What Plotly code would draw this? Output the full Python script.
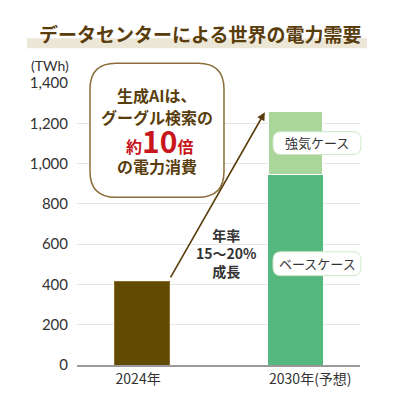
import plotly.graph_objects as go

years = ["2024年", "2030年(予想)"]
x_pos = [0, 1]
actual = [415, None]
base_case = [None, 945]
strong_case = [None, 315]
y_ticks = [0, 200, 400, 600, 800, 1000, 1200, 1400]

FONT = "Noto Sans CJK JP"
BROWN = "#5a3d0c"
BAR_W = 0.355

# page has an 8px body margin; positions below are screen pixels
OFF = 8
W = H = 400 - OFF
L, R, T, B = 77, 360, 83, 367


def paper(px, py):
    return (px - L) / (R - L), (B - py) / (B - T)


def rounded_box(x0, y0, x1, y1, r):
    # rounded rectangle path in pixel space -> paper coords
    pts = [("M", x0 + r, y0), ("L", x1 - r, y0), ("Q", x1, y0, x1, y0 + r),
           ("L", x1, y1 - r), ("Q", x1, y1, x1 - r, y1), ("L", x0 + r, y1),
           ("Q", x0, y1, x0, y1 - r), ("L", x0, y0 + r), ("Q", x0, y0, x0 + r, y0)]
    parts = []
    for p in pts:
        cmd, coords = p[0], p[1:]
        xy = []
        for i in range(0, len(coords), 2):
            a, b = paper(coords[i], coords[i + 1])
            xy.append(f"{a:.4f},{b:.4f}")
        parts.append(cmd + " ".join(xy))
    return " ".join(parts) + " Z"


def note(text, px, py, size, color="#333333", family=FONT, xanchor="center"):
    x, y = paper(px, py)
    return dict(text=text, xref="paper", yref="paper", x=x, y=y, xanchor=xanchor, yanchor="middle",
                showarrow=False, font=dict(size=size, color=color, family=family))


fig = go.Figure()
fig.add_trace(go.Bar(x=x_pos, y=actual, marker=dict(color="#634a03", line=dict(color="#8a6d2a", width=1)),
                     width=BAR_W, showlegend=False))
fig.add_trace(go.Bar(x=x_pos, y=base_case, marker=dict(color="#55b87f", line=dict(width=0)),
                     width=BAR_W, showlegend=False))
fig.add_trace(go.Bar(x=x_pos, y=strong_case, marker=dict(color="#aad69c", line=dict(color="#ffffff", width=1)),
                     width=BAR_W, showlegend=False))

shapes = []
# title band
bx0, by0 = paper(27, 48)
bx1, by1 = paper(367, 38)
shapes.append(dict(type="rect", xref="paper", yref="paper", x0=bx0, y0=by0, x1=bx1, y1=by1,
                   fillcolor="#ebe6d6", line=dict(width=0), layer="below"))
# callout bubble
shapes.append(dict(type="path", xref="paper", yref="paper", path=rounded_box(90, 63, 224, 198, 26),
                   fillcolor="#ffffff", line=dict(color="#8b6d3b", width=1.5)))
# case label boxes
shapes.append(dict(type="path", xref="paper", yref="paper", path=rounded_box(273, 132, 361, 155, 8),
                   fillcolor="#ffffff", line=dict(color="#cfe8c8", width=1)))
shapes.append(dict(type="path", xref="paper", yref="paper", path=rounded_box(273, 253, 361, 277, 8),
                   fillcolor="#ffffff", line=dict(color="#cfe8c8", width=1)))

annotations = [
    note("<b>データセンターによる世界の電力需要</b>", 200, 33, 19, BROWN),
    note("(TWh)", 71, 65, 14, family="Lato", xanchor="right"),
    note("<b>生成AIは、</b>", 157, 95, 16, BROWN),
    note("<b>グーグル検索の</b>", 157, 117, 16, BROWN),
    note("<b>約<span style='font-size:30px'>10</span>倍</b>", 159, 140, 16, "#c8161d"),
    note("<b>の電力消費</b>", 157, 167, 16, BROWN),
    note("強気ケース", 317, 143, 13),
    note("ベースケース", 317, 265, 13),
]
# growth arrow from 2024 bar to 2030 bar
annotations.append(dict(x=0.80, y=1255, ax=0.18, ay=428, xref="x", yref="y", axref="x", ayref="y",
                        text="", showarrow=True, arrowhead=2, arrowsize=1, arrowwidth=1.6,
                        arrowcolor=BROWN))
annotations.append(dict(x=0.55, y=556, xref="x", yref="y", showarrow=False,
                        text="<b>年率</b><br><b>15～20%</b><br><b>成長</b>",
                        font=dict(size=14, color="#333333", family=FONT)))

fig.update_layout(
    barmode="stack",
    width=W, height=H,
    margin=dict(l=L - OFF, r=W - (R - OFF), t=T - OFF, b=H - (B - OFF), pad=0),
    paper_bgcolor="white", plot_bgcolor="white",
    shapes=shapes, annotations=annotations,
    font=dict(family=FONT, color="#333333"),
)
fig.update_xaxes(range=[-0.424, 1.42], showline=True, linecolor="#9a9a9a", linewidth=1.5,
                 tickvals=[p - BAR_W / 2 for p in x_pos], ticktext=years,
                 ticklabelposition="outside right", showgrid=False, zeroline=False,
                 tickfont=dict(size=14, family=FONT, color="#333333"), ticks="")
fig.update_yaxes(range=[0, 1400], tickvals=y_ticks, tickformat=",", showgrid=True,
                 gridcolor="#e6e6e6", gridwidth=1.2, zeroline=False,
                 tickfont=dict(size=15, family="Lato", color="#333333"),
                 ticks="outside", ticklen=5, tickcolor="rgba(0,0,0,0)")

fig.write_html("out.html")
